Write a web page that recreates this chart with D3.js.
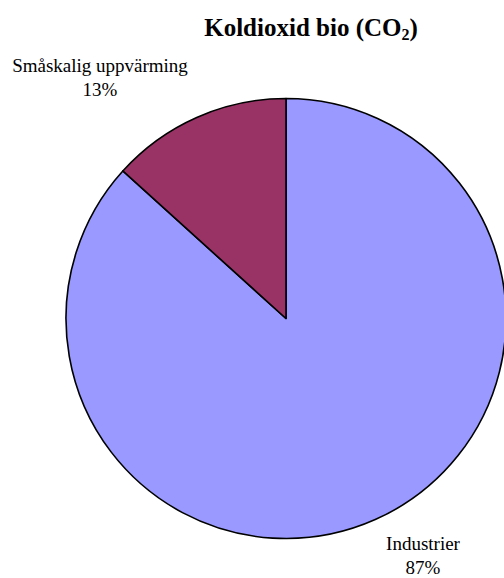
<!DOCTYPE html>
<html><head><meta charset="utf-8">
<script src="https://cdn.jsdelivr.net/npm/d3@7"></script>
<style>body{margin:0;background:#fff;} svg{display:block;}</style>
</head><body>
<script>
const categories = ["Industrier", "Småskalig uppvärming"];
const values = [86.7, 13.3];
const colors = ["#9999FF", "#993366"];
const title = "Koldioxid bio (CO";

const W = 504, H = 578;
const svg = d3.select("body").append("svg").attr("width", W).attr("height", H);
const cx = 286, cy = 318.5, r = 220;
const font = "Liberation Serif";

const data = categories.map((c, i) => ({cat: c, value: values[i], color: colors[i]}));
const pie = d3.pie().sort(null).value(d => d.value)
  .startAngle(0).endAngle(2 * Math.PI);
const arcs = pie(data);
const arc = d3.arc().innerRadius(0).outerRadius(r);

const g = svg.append("g").attr("transform", `translate(${cx},${cy})`);
g.selectAll("path").data(arcs).join("path")
  .attr("d", arc).attr("fill", d => d.data.color)
  .attr("stroke", "#000").attr("stroke-width", 1.6).attr("stroke-linejoin", "round");

const t = svg.append("text").attr("x", 311).attr("y", 36).attr("text-anchor", "middle")
  .style("font-family", font).style("font-weight", "bold").style("font-size", "25px")
  .attr("fill", "#000");
t.append("tspan").text(title);
t.append("tspan").style("font-size", "16px").attr("dy", 4).text("2");
t.append("tspan").attr("dy", -4).text(")");

const total = d3.sum(values);
const labelPos = [[423, 550], [100, 72]];
arcs.forEach((a, i) => {
  const lt = svg.append("text").attr("text-anchor", "middle")
    .style("font-family", font).style("font-size", "19px").attr("fill", "#000");
  lt.append("tspan").attr("x", labelPos[i][0]).attr("y", labelPos[i][1]).text(a.data.cat);
  lt.append("tspan").attr("x", labelPos[i][0]).attr("y", labelPos[i][1] + 24)
    .text(Math.round(a.data.value / total * 100) + "%");
});
</script>
</body></html>
